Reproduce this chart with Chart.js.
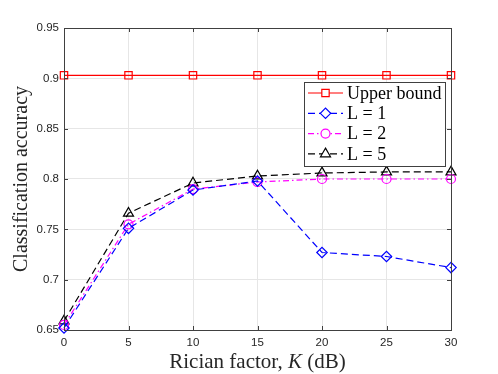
<!DOCTYPE html>
<html>
<head>
<meta charset="utf-8">
<script src="https://cdn.jsdelivr.net/npm/chart.js@4"></script>
<style>
  html, body { margin: 0; padding: 0; background: #fff; }
  #wrap { width: 498px; height: 374px; position: relative; }
</style>
</head>
<body>
<div id="wrap"><canvas id="accChart"></canvas></div>
<script>
// 데이터
const kValues = [0, 5, 10, 15, 20, 25, 30];
const upperBound = [0.903, 0.903, 0.903, 0.903, 0.903, 0.903, 0.903];
const accL1 = [0.652, 0.751, 0.789, 0.798, 0.727, 0.723, 0.712];
const accL2 = [0.655, 0.755, 0.79, 0.797, 0.8, 0.8, 0.8];
const accL5 = [0.659, 0.766, 0.796, 0.803, 0.806, 0.807, 0.807];
const xTicks = [0, 5, 10, 15, 20, 25, 30];
const yTicks = [0.65, 0.7, 0.75, 0.8, 0.85, 0.9, 0.95];
const legendLabels = ["Upper bound", "L = 1", "L = 2", "L = 5"];

const serif = "'Liberation Serif', 'DejaVu Serif', serif";
const sans = "'Liberation Sans', Arial, sans-serif";
const axisColor = "#404040";

function toPoints(ys) {
  return kValues.map((k, i) => ({ x: k, y: ys[i] }));
}

const series = [
  { label: legendLabels[0], data: upperBound, color: "#ff0000", style: "rect", radius: 5.2, dash: [] },
  { label: legendLabels[1], data: accL1, color: "#0000ff", style: "rectRot", radius: 5.2, dash: [7, 4] },
  { label: legendLabels[2], data: accL2, color: "#ff00ff", style: "circle", radius: 4.5, dash: [6, 3, 1.5, 3] },
  { label: legendLabels[3], data: accL5, color: "#000000", style: "triangle", radius: 5.8, dash: [7, 4] },
];

// 축 테두리, 눈금, x축 제목, 범례
const framePlugin = {
  id: "frame",
  afterDraw(chart) {
    const { ctx, chartArea: a, scales } = chart;
    ctx.save();
    ctx.strokeStyle = axisColor;
    ctx.lineWidth = 1;
    ctx.strokeRect(Math.round(a.left) + 0.5, Math.round(a.top) + 0.5,
      Math.round(a.right - a.left), Math.round(a.bottom - a.top));

    // 안쪽 눈금
    ctx.beginPath();
    xTicks.forEach((v) => {
      const x = Math.round(scales.x.getPixelForValue(v)) + 0.5;
      ctx.moveTo(x, a.bottom); ctx.lineTo(x, a.bottom - 4);
      ctx.moveTo(x, a.top); ctx.lineTo(x, a.top + 4);
    });
    yTicks.forEach((v) => {
      const y = Math.round(scales.y.getPixelForValue(v)) + 0.5;
      ctx.moveTo(a.left, y); ctx.lineTo(a.left + 4, y);
      ctx.moveTo(a.right, y); ctx.lineTo(a.right - 4, y);
    });
    ctx.stroke();

    // x축 제목 (K 기울임)
    const parts = [
      { t: "Rician factor, ", f: "21px " + serif },
      { t: "K", f: "italic 21px " + serif },
      { t: " (dB)", f: "21px " + serif },
    ];
    let total = 0;
    parts.forEach((p) => { ctx.font = p.f; p.w = ctx.measureText(p.t).width; total += p.w; });
    let tx = (a.left + a.right) / 2 - total / 2;
    ctx.fillStyle = "#262626";
    ctx.textBaseline = "middle";
    ctx.textAlign = "left";
    parts.forEach((p) => { ctx.font = p.f; ctx.fillText(p.t, tx, 362); tx += p.w; });

    // 범례
    const box = { x: 304.5, y: 82.5, w: 141, h: 84 };
    ctx.fillStyle = "#fff";
    ctx.fillRect(box.x, box.y, box.w, box.h);
    ctx.strokeStyle = axisColor;
    ctx.strokeRect(box.x, box.y, box.w, box.h);
    series.forEach((s, i) => {
      const y = 93 + i * 20.3;
      ctx.strokeStyle = s.color;
      ctx.lineWidth = 1.2;
      ctx.setLineDash(s.dash);
      ctx.beginPath();
      ctx.moveTo(308, y); ctx.lineTo(343, y);
      ctx.stroke();
      ctx.setLineDash([]);
      ctx.fillStyle = "#fff";
      Chart.helpers.drawPoint(ctx, {
        pointStyle: s.style, radius: s.radius, borderWidth: 1.2, rotation: 0,
      }, 325.5, y);
      ctx.fillStyle = "#000";
      ctx.font = "18px " + serif;
      ctx.fillText(s.label, 347, y + 1);
    });
    ctx.restore();
  },
};

const ctx = document.getElementById("accChart").getContext("2d");
new Chart(ctx, {
  type: "line",
  data: {
    datasets: series.map((s) => ({
      label: s.label,
      data: toPoints(s.data),
      borderColor: s.color,
      borderWidth: 1.2,
      borderDash: s.dash,
      pointStyle: s.style,
      pointRadius: s.radius,
      pointBorderColor: s.color,
      pointBorderWidth: 1.2,
      pointBackgroundColor: "rgba(0,0,0,0)",
      fill: false,
      tension: 0,
      clip: false,
    })),
  },
  options: {
    responsive: true,
    maintainAspectRatio: false,
    animation: false,
    devicePixelRatio: 1,
    layout: {
      padding: { top: 28, right: 47, left: 0, bottom: 0 },
    },
    plugins: {
      legend: { display: false },
      title: { display: false },
      tooltip: { enabled: false },
    },
    scales: {
      x: {
        type: "linear",
        min: 0,
        max: 30,
        afterFit: (s) => { s.height = 44; },
        afterBuildTicks: (s) => { s.ticks = xTicks.map((v) => ({ value: v })); },
        grid: { color: "#e6e6e6", drawTicks: false },
        border: { display: false },
        ticks: {
          color: "#262626",
          padding: 6,
          font: { family: sans, size: 11.5 },
          callback: (v) => String(v),
        },
      },
      y: {
        type: "linear",
        min: 0.65,
        max: 0.95,
        afterFit: (s) => { s.width = 64; },
        afterBuildTicks: (s) => { s.ticks = yTicks.map((v) => ({ value: v })); },
        grid: { color: "#e6e6e6", drawTicks: false },
        border: { display: false },
        title: {
          display: true,
          text: "Classification accuracy",
          color: "#262626",
          padding: { top: 10, bottom: 4 },
          font: { family: serif, size: 20 },
        },
        ticks: {
          color: "#262626",
          padding: 5,
          font: { family: sans, size: 11.5 },
          callback: (v) => String(+v.toFixed(2)),
        },
      },
    },
  },
  plugins: [framePlugin],
});
</script>
</body>
</html>
